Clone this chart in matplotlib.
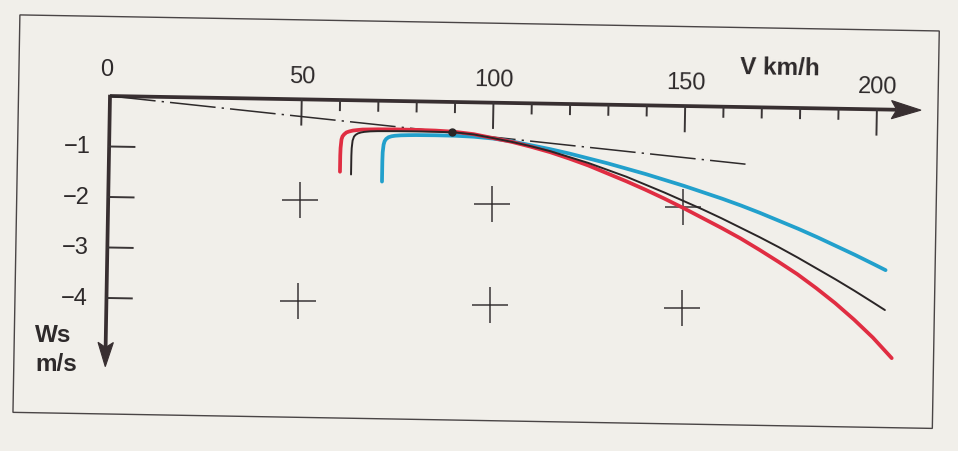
import matplotlib
matplotlib.use("Agg")
import matplotlib.pyplot as plt
from matplotlib.transforms import Affine2D
from matplotlib.patches import Polygon, Rectangle

# ---------------- data ----------------
x_major = [50, 100, 150, 200]
x_labels = ["50", "100", "150", "200"]
x_minor = [60, 70, 80, 90, 110, 120, 130, 140, 160, 170, 180, 190]
y_major = [-1, -2, -3, -4]
y_labels = ["\u22121", "\u22122", "\u22123", "\u22124"]

cross_v = [50, 100, 150, 50, 100, 150]
cross_w = [-2, -2, -2, -4, -4, -4]

red_v = [60.3, 60.3, 60.35, 60.55, 60.8, 61.2, 61.8, 62.5, 63.5, 64.5, 66, 70, 75,
         80, 85, 90, 95, 100, 105, 110, 115, 120, 125, 130, 135, 140, 145, 150,
         155, 160, 165, 170, 175, 180, 185, 190, 195, 200, 205]
red_w = [-1.42, -1.10, -0.95, -0.78, -0.72, -0.68, -0.64, -0.62, -0.60, -0.59,
         -0.577, -0.567, -0.563, -0.565, -0.572, -0.59, -0.63, -0.70, -0.77, -0.86,
         -0.96, -1.08, -1.21, -1.36, -1.51, -1.67, -1.84, -2.02, -2.21, -2.40,
         -2.60, -2.82, -3.05, -3.29, -3.56, -3.85, -4.17, -4.52, -4.92]

black_v = [63.2, 63.2, 63.25, 63.45, 63.8, 64.2, 64.8, 65.6, 66.5, 68, 70, 75, 80,
           85, 90, 95, 100, 105, 110, 115, 120, 125, 130, 135, 140, 145, 150, 155,
           160, 165, 170, 175, 180, 185, 190, 195, 200, 203]
black_w = [-1.47, -1.10, -0.95, -0.80, -0.72, -0.685, -0.655, -0.635, -0.622, -0.61,
           -0.603, -0.597, -0.595, -0.596, -0.60, -0.635, -0.70, -0.77, -0.85, -0.94,
           -1.05, -1.16, -1.29, -1.42, -1.57, -1.72, -1.88, -2.04, -2.21, -2.39,
           -2.57, -2.76, -2.96, -3.17, -3.38, -3.60, -3.83, -3.97]

blue_v = [71.3, 71.3, 71.35, 71.55, 71.8, 72.2, 72.8, 73.6, 74.5, 76, 78, 80, 85,
          90, 95, 100, 105, 110, 115, 120, 125, 130, 135, 140, 145, 150, 155, 160,
          165, 170, 175, 180, 185, 190, 195, 200, 203]
blue_w = [-1.60, -1.20, -1.02, -0.87, -0.80, -0.755, -0.72, -0.70, -0.688, -0.678,
          -0.672, -0.668, -0.665, -0.667, -0.68, -0.71, -0.76, -0.83, -0.90, -0.98,
          -1.07, -1.16, -1.26, -1.36, -1.47, -1.58, -1.70, -1.82, -1.95, -2.09,
          -2.24, -2.39, -2.55, -2.72, -2.89, -3.07, -3.18]

tangent_v = [0, 166]
tangent_w = [0, -1.13]
dot_v = [89.3]
dot_w = [-0.59]

# ---------------- figure ----------------
W_PX, H_PX, DPI = 958, 452, 100
fig = plt.figure(figsize=(W_PX / DPI, H_PX / DPI), dpi=DPI)
bg = "#f1efea"
fig.patch.set_facecolor(bg)
ax = fig.add_axes([0, 0, 1, 1])
ax.set_facecolor(bg)

X0, SX = 110, 3.835   # pixel of V=0, pixels per km/h
Y0, SY = 97, 50.5     # pixel (from top) of W=0, pixels per m/s
ax.set_xlim(-X0 / SX, (W_PX - X0) / SX)
ax.set_ylim((Y0 - H_PX) / SY, Y0 / SY)
ax.axis("off")

# slight scan rotation around the origin
rot = Affine2D().rotate_deg_around(X0, H_PX - Y0, -1.0)
tr = ax.transData + rot

axis_col = "#382f31"
ink = "#3a3536"
txt = "#2e2a2b"
plt.rcParams["font.family"] = ["Liberation Sans", "DejaVu Sans"]

# frame
fv0, fv1 = (18.5 - X0) / SX, (938 - X0) / SX
fw0, fw1 = (Y0 - 415) / SY, (Y0 - 17.5) / SY
ax.add_patch(Rectangle((fv0, fw0), fv1 - fv0, fw1 - fw0, fill=False,
                       ec="#4a4546", lw=1.0, transform=tr))

# axes lines
ax.plot([0, 205], [0, 0], color=axis_col, lw=2.7, solid_capstyle="butt", transform=tr)
ax.plot([0, 0], [0.025, -5.0], color=axis_col, lw=2.7, solid_capstyle="butt", transform=tr)
ax.add_patch(Polygon([(211.5, 0), (203.8, 0.18), (205.2, 0), (203.8, -0.18)],
                     closed=True, fc=axis_col, ec=axis_col, lw=0.8, transform=tr))
ax.add_patch(Polygon([(0, -5.36), (-2.0, -4.88), (0, -4.98), (2.0, -4.88)],
                     closed=True, fc=axis_col, ec=axis_col, lw=0.8, transform=tr))

# ticks
for v in x_major:
    ax.plot([v, v], [0, -0.5], color=ink, lw=1.4, transform=tr)
for v in x_minor:
    ax.plot([v, v], [0, -0.2], color=ink, lw=1.4, transform=tr)
for w in y_major:
    ax.plot([0, 6.6], [w, w], color=ink, lw=1.4, transform=tr)

# crosses
ax.plot(cross_v, cross_w, ls="none", marker="+", ms=26, mew=1.1, color=ink, transform=tr)

# tick labels
for v, lab in zip(x_major, x_labels):
    ax.text(v, 0.46, lab, ha="center", va="center", fontsize=17, color=txt,
            rotation=-1, rotation_mode="anchor", transform=tr)
ax.text(-1.0, 0.53, "0", ha="center", va="center", fontsize=17, color=txt,
        transform=tr)
for w, lab in zip(y_major, y_labels):
    ax.text(-4.9, w, lab, ha="right", va="center", fontsize=17, color=txt,
            transform=tr)

ax.text(174.6, 0.80, "V km/h", ha="center", va="center", fontsize=17.5,
        fontweight="bold", color=txt, rotation=-1, rotation_mode="anchor",
        transform=tr)
ax.text(-18.5, -4.74, "Ws", ha="left", va="center", fontsize=17.5, fontweight="bold",
        color=txt, transform=tr)
ax.text(-18.3, -5.33, "m/s", ha="left", va="center", fontsize=17.5, fontweight="bold",
        color=txt, transform=tr)

# tangent dash-dot line
ax.plot(tangent_v, tangent_w, color=txt, lw=1.1, ls=(0, (30, 4, 1.5, 4)),
        transform=tr)

# polars
ax.plot(blue_v, blue_w, color="#22a0cc", lw=2.7, solid_capstyle="round",
        solid_joinstyle="round", transform=tr)
ax.plot(red_v, red_w, color="#e02d42", lw=2.7, solid_capstyle="round",
        solid_joinstyle="round", transform=tr)
ax.plot(black_v, black_w, color="#2a2526", lw=1.4, solid_capstyle="round",
        solid_joinstyle="round", transform=tr)
ax.plot(dot_v, dot_w, ls="none", marker="o", ms=5, color="#2a2526", transform=tr)

fig.savefig("out.png", dpi=DPI, facecolor=bg)
